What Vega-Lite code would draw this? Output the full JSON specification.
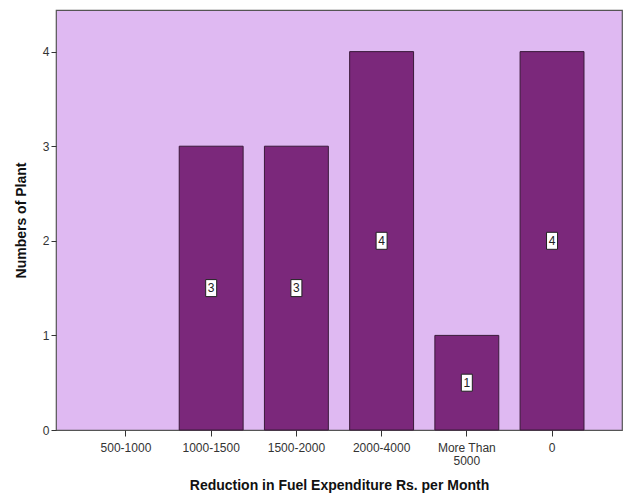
{
  "$schema": "https://vega.github.io/schema/vega-lite/v6.json",
  "width": 566,
  "height": 420,
  "autosize": {"type": "none"},
  "padding": {"left": 56, "top": 10, "right": 5, "bottom": 67},
  "background": "white",
  "config": {
    "font": "Liberation Sans",
    "view": {"fill": "#dfb9f2", "stroke": "#555555", "strokeWidth": 1.2},
    "axis": {"grid": false, "domain": false, "tickColor": "#333333", "labelColor": "#333333", "labelFont": "Liberation Sans", "titleFont": "Liberation Sans", "titleColor": "#111111"}
  },
  "data": {
    "values": [
      {"range": "500-1000", "plants": 0},
      {"range": "1000-1500", "plants": 3},
      {"range": "1500-2000", "plants": 3},
      {"range": "2000-4000", "plants": 4},
      {"range": "More Than 5000", "plants": 1},
      {"range": "0", "plants": 4}
    ]
  },
  "encoding": {
    "x": {
      "field": "range",
      "type": "nominal",
      "scale": {
        "domain": ["500-1000", "1000-1500", "1500-2000", "2000-4000", "More Than 5000", "0"],
        "paddingInner": 0.25,
        "paddingOuter": 0.446
      },
      "axis": {
        "title": "Reduction in Fuel Expenditure Rs. per Month",
        "titleFontSize": 14,
        "titleFontWeight": "bold",
        "titlePadding": 12,
        "labelAngle": 0,
        "labelFontSize": 12,
        "labelPadding": 6,
        "labelLineHeight": 13,
        "tickSize": 6,
        "labelExpr": "datum.label == 'More Than 5000' ? ['More Than', '5000'] : datum.label"
      }
    }
  },
  "layer": [
    {
      "transform": [{"filter": "datum.plants > 0"}],
      "mark": {"type": "bar", "color": "#7b287b", "stroke": "#3a1a3a", "strokeWidth": 1},
      "encoding": {
        "y": {
          "field": "plants",
          "type": "quantitative",
          "scale": {"domain": [0, 4.44], "nice": false},
          "axis": {
            "title": "Numbers of Plant",
            "titleFontSize": 14,
            "titleFontWeight": "bold",
            "titlePadding": 14,
            "values": [0, 1, 2, 3, 4],
            "format": "d",
            "labelFontSize": 12,
            "labelPadding": 2,
            "tickSize": 5
          }
        }
      }
    },
    {
      "transform": [{"filter": "datum.plants > 0"}, {"calculate": "datum.plants / 2", "as": "mid"}],
      "mark": {
        "type": "point",
        "shape": "M-0.647,-1H0.647V1H-0.647Z",
        "size": 289,
        "filled": true,
        "fill": "white",
        "stroke": "#222222",
        "strokeWidth": 1,
        "opacity": 1
      },
      "encoding": {
        "y": {"field": "mid", "type": "quantitative"}
      }
    },
    {
      "transform": [{"filter": "datum.plants > 0"}, {"calculate": "datum.plants / 2", "as": "mid"}],
      "mark": {"type": "text", "fontSize": 12, "color": "#222222", "baseline": "middle", "align": "center"},
      "encoding": {
        "y": {"field": "mid", "type": "quantitative"},
        "text": {"field": "plants", "type": "quantitative"}
      }
    }
  ]
}
